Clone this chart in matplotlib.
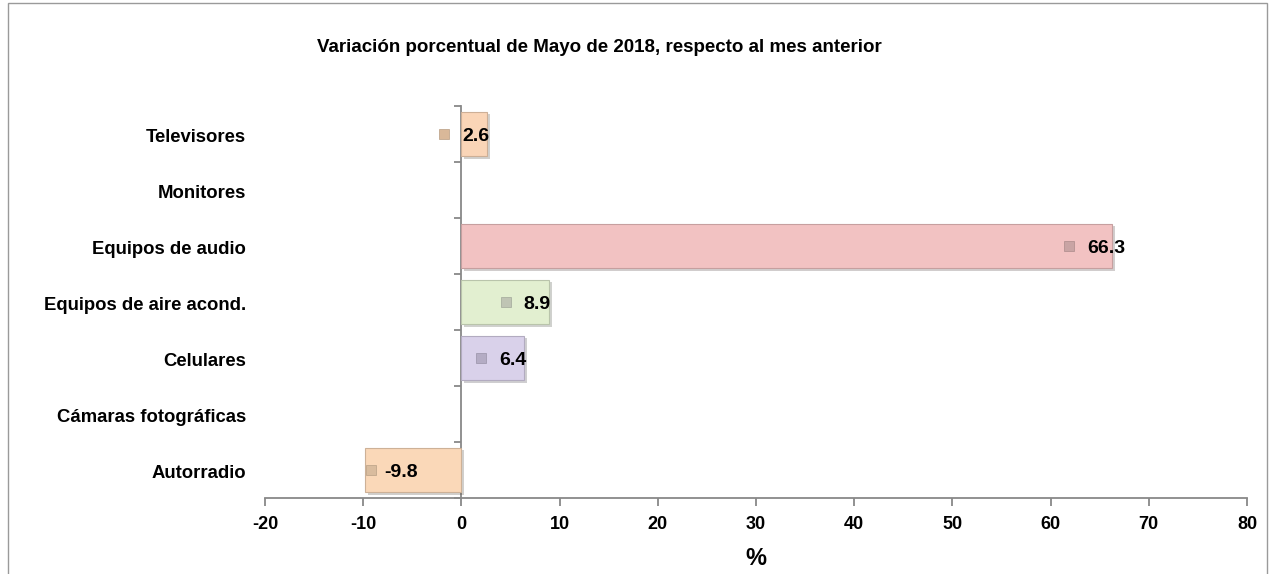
import numpy as np
import matplotlib.pyplot as plt
import matplotlib.patheffects as pe
import matplotlib.transforms as mtransforms
from matplotlib.colors import to_rgb
from matplotlib.patches import Rectangle

# Data (bottom to top, as drawn)
categories = ["Autorradio", "Cámaras fotográficas", "Celulares",
              "Equipos de aire acond.", "Equipos de audio", "Monitores", "Televisores"]
values = [-9.8, np.nan, 6.4, 8.9, 66.3, np.nan, 2.6]
bar_colors = ["#FAD8B8", "#FFFFFF", "#D9D1EA", "#E2EFD0", "#F2C2C2", "#FFFFFF", "#FAD5B7"]
key_colors = ["#D9BC9E", "#FFFFFF", "#B4ACC4", "#BFC4B4", "#C9A4A4", "#FFFFFF", "#D9B899"]
x_ticks = [-20, -10, 0, 10, 20, 30, 40, 50, 60, 70, 80]

FONT = "Liberation Sans"
plt.rcParams["font.family"] = [FONT, "DejaVu Sans"]

fig = plt.figure(figsize=(12.75, 5.74), dpi=100)
ax = fig.add_axes([0.2078, 0.1324, 0.7702, 0.6829])

# figure border
fig.patches.append(Rectangle((0.0063, -0.05), 0.9875, 1.045, transform=fig.transFigure,
                             fill=False, edgecolor="#9a9a9a", linewidth=1.0))


def darker(c, f=0.82):
    r, g, b = to_rgb(c)
    return (r * f, g * f, b * f)


y = np.arange(len(categories))
for yi, v, c in zip(y, values, bar_colors):
    if np.isnan(v):
        continue
    ax.barh(yi, v, height=0.8, color=c, edgecolor=darker(c), linewidth=0.8, zorder=3,
            path_effects=[pe.SimplePatchShadow(offset=(2, -2), alpha=0.25), pe.Normal()])

# data labels with small legend keys
for yi, v, k in zip(y, values, key_colors):
    if np.isnan(v):
        continue
    if v >= 0:
        key_dx, txt_dx = -43, -25
    else:
        key_dx, txt_dx = 6, 19
    shift = mtransforms.ScaledTranslation(key_dx / 100, 0, fig.dpi_scale_trans)
    ax.plot([v], [yi], marker="s", markersize=7.5, color=k, markeredgecolor=darker(k, 0.85),
            markeredgewidth=0.5, zorder=5, transform=ax.transData + shift)
    ax.annotate(f"{v:.1f}", xy=(v, yi), xytext=(txt_dx, -2), textcoords="offset pixels",
                ha="left", va="center", fontsize=14, fontweight="bold", zorder=6)

ax.set_xlim(-20, 80)
ax.set_ylim(-0.48, len(categories) - 0.5)
ax.set_xticks(x_ticks)
ax.set_xticklabels([str(t) for t in x_ticks], fontsize=13, fontweight="bold")
ax.set_yticks(np.arange(-0.5, len(categories), 1.0))
ax.set_yticklabels([])

for s in ["top", "right"]:
    ax.spines[s].set_visible(False)
ax.spines["left"].set_position(("data", 0))
ax.spines["left"].set_color("#888888")
ax.spines["bottom"].set_color("#888888")
ax.spines["left"].set_linewidth(1.3)
ax.spines["bottom"].set_linewidth(1.3)
ax.tick_params(axis="y", direction="out", length=5, color="#888888", width=1.3)
ax.tick_params(axis="x", direction="out", length=6, color="#888888", width=1.3, pad=7)

label_shift = mtransforms.ScaledTranslation(0, -3 / 100, fig.dpi_scale_trans)
for yi, name in zip(y, categories):
    ax.text(-0.019, yi, name, transform=ax.get_yaxis_transform() + label_shift,
            ha="right", va="center", fontsize=13.3, fontweight="bold")

ax.set_xlabel("%", fontsize=17, fontweight="bold", labelpad=10)
fig.text(0.470, 0.917, "Variación porcentual de Mayo de 2018, respecto al mes anterior",
         ha="center", va="center", fontsize=13.5, fontweight="bold")

fig.savefig("out.png", dpi=100)
